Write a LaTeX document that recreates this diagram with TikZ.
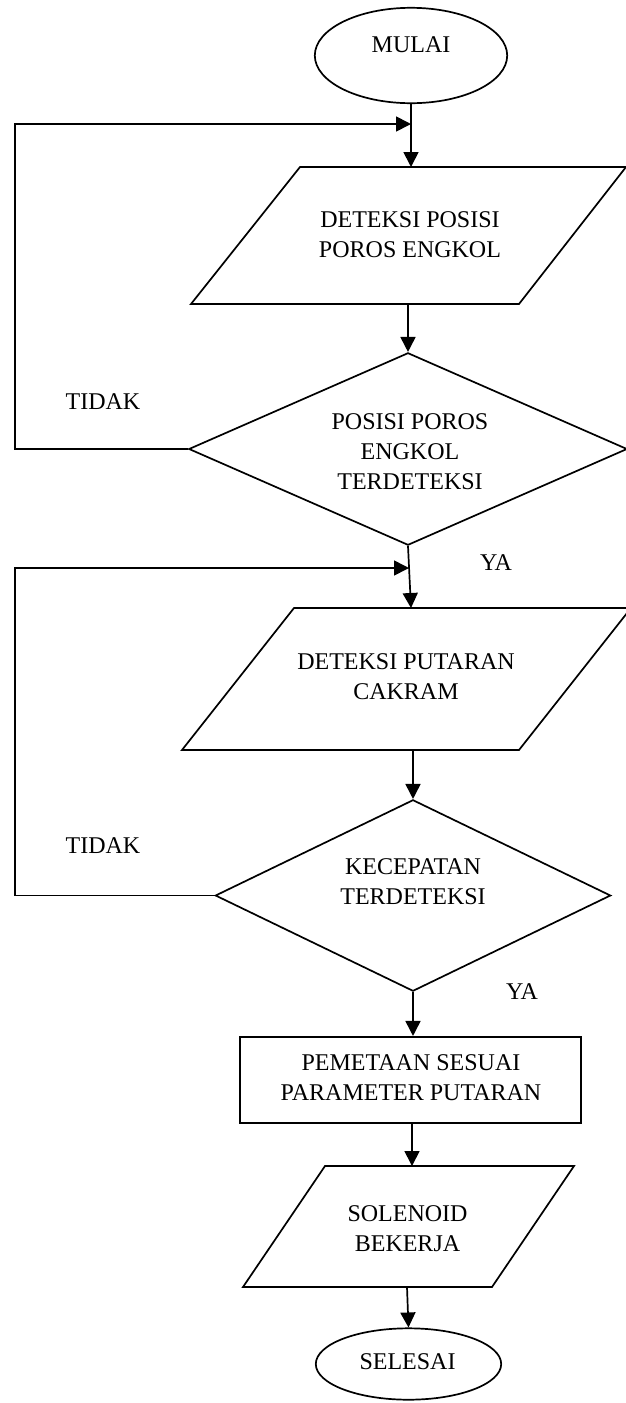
\documentclass[tikz,border=0pt]{standalone}
\usepackage{fontspec}
\setmainfont{Liberation Serif}
\usetikzlibrary{arrows.meta,shapes.geometric}

\tikzset{
  flow/.style={line width=1.7pt, draw=black},
  terminal/.style={flow, ellipse, inner sep=0pt},
  decision/.style={flow, diamond, inner sep=0pt},
  process/.style={flow, rectangle, inner sep=0pt},
  txt/.style={font=\fontsize{24}{30}\selectfont, align=center, inner sep=0pt},
  arr/.style={line width=1.7pt, -{Triangle[length=15pt,width=15pt]}}
}

\begin{document}
\begin{tikzpicture}[x=1pt,y=-1pt]
\useasboundingbox (0,0) rectangle (625,1403);

% start
\node[terminal, minimum width=192.4, minimum height=95.4] (start) at (411,55.5) {};
\node[txt] (startlbl) at (411,45) {MULAI};

% input: crankshaft position
\coordinate (p1tl) at (300,167);
\coordinate (p1tr) at (626,167);
\coordinate (p1br) at (519,304);
\coordinate (p1bl) at (191,304);
\draw[flow] (p1tl) -- (p1tr) -- (p1br) -- (p1bl) -- cycle;
\node[txt] (p1) at (410,235) {DETEKSI POSISI\\POROS ENGKOL};
\coordinate (p1in) at (411,167);
\coordinate (p1out) at (408,304);

% decision 1
\node[decision, minimum width=438.4, minimum height=192.4] (d1) at (408,449) {};
\node[txt] (d1lbl) at (410,452) {POSISI POROS\\ENGKOL\\TERDETEKSI};

% input: disc rotation
\coordinate (p2tl) at (294,608);
\coordinate (p2tr) at (631,608);
\coordinate (p2br) at (519,750);
\coordinate (p2bl) at (182,750);
\draw[flow] (p2tl) -- (p2tr) -- (p2br) -- (p2bl) -- cycle;
\node[txt] (p2) at (406,677) {DETEKSI PUTARAN\\CAKRAM};
\coordinate (p2in) at (411,608);
\coordinate (p2out) at (413,750);

% decision 2
\node[decision, minimum width=395.4, minimum height=191.4] (d2) at (413,895.5) {};
\node[txt] (d2lbl) at (413,882) {KECEPATAN\\TERDETEKSI};

% mapping step
\node[process, minimum width=341.4, minimum height=86.4] (r) at (410.5,1080) {};
\node[txt] (rlbl) at (411,1078) {PEMETAAN SESUAI\\PARAMETER PUTARAN};

% output: solenoid
\coordinate (p3tl) at (325,1166);
\coordinate (p3tr) at (574,1166);
\coordinate (p3br) at (492,1287);
\coordinate (p3bl) at (243,1287);
\draw[flow] (p3tl) -- (p3tr) -- (p3br) -- (p3bl) -- cycle;
\node[txt] (p3) at (407.5,1229) {SOLENOID\\BEKERJA};
\coordinate (p3in) at (412,1166);
\coordinate (p3out) at (407,1287);

% end
\node[terminal, minimum width=185.4, minimum height=71.4] (stop) at (408.5,1364) {};
\node[txt] (stoplbl) at (407.5,1362) {SELESAI};

% branch labels
\node[txt] (no1) at (103,402) {TIDAK};
\node[txt] (yes1) at (496,563) {YA};
\node[txt] (no2) at (103,846) {TIDAK};
\node[txt] (yes2) at (522,992) {YA};

% loop-back points
\coordinate (fb1) at (411,124);
\coordinate (loop1) at (15,124);
\coordinate (fb2) at (409,568);
\coordinate (loop2) at (15,568);

% main flow
\draw[arr] (start.south) -- (p1in);
\draw[arr] (p1out) -- (d1.north);
\draw[arr] (d1.south) -- (p2in);
\draw[arr] (p2out) -- (d2.north);
\draw[arr] (d2.south) -- (d2.south |- r.north);
\draw[arr] (p3in |- r.south) -- (p3in);
\draw[arr] (p3out) -- (stop.north);

% "no" loops
\draw[arr] (d1.west) -| (loop1) -- (fb1);
\draw[arr] (d2.west) -| (loop2) -- (fb2);
\end{tikzpicture}
\end{document}
